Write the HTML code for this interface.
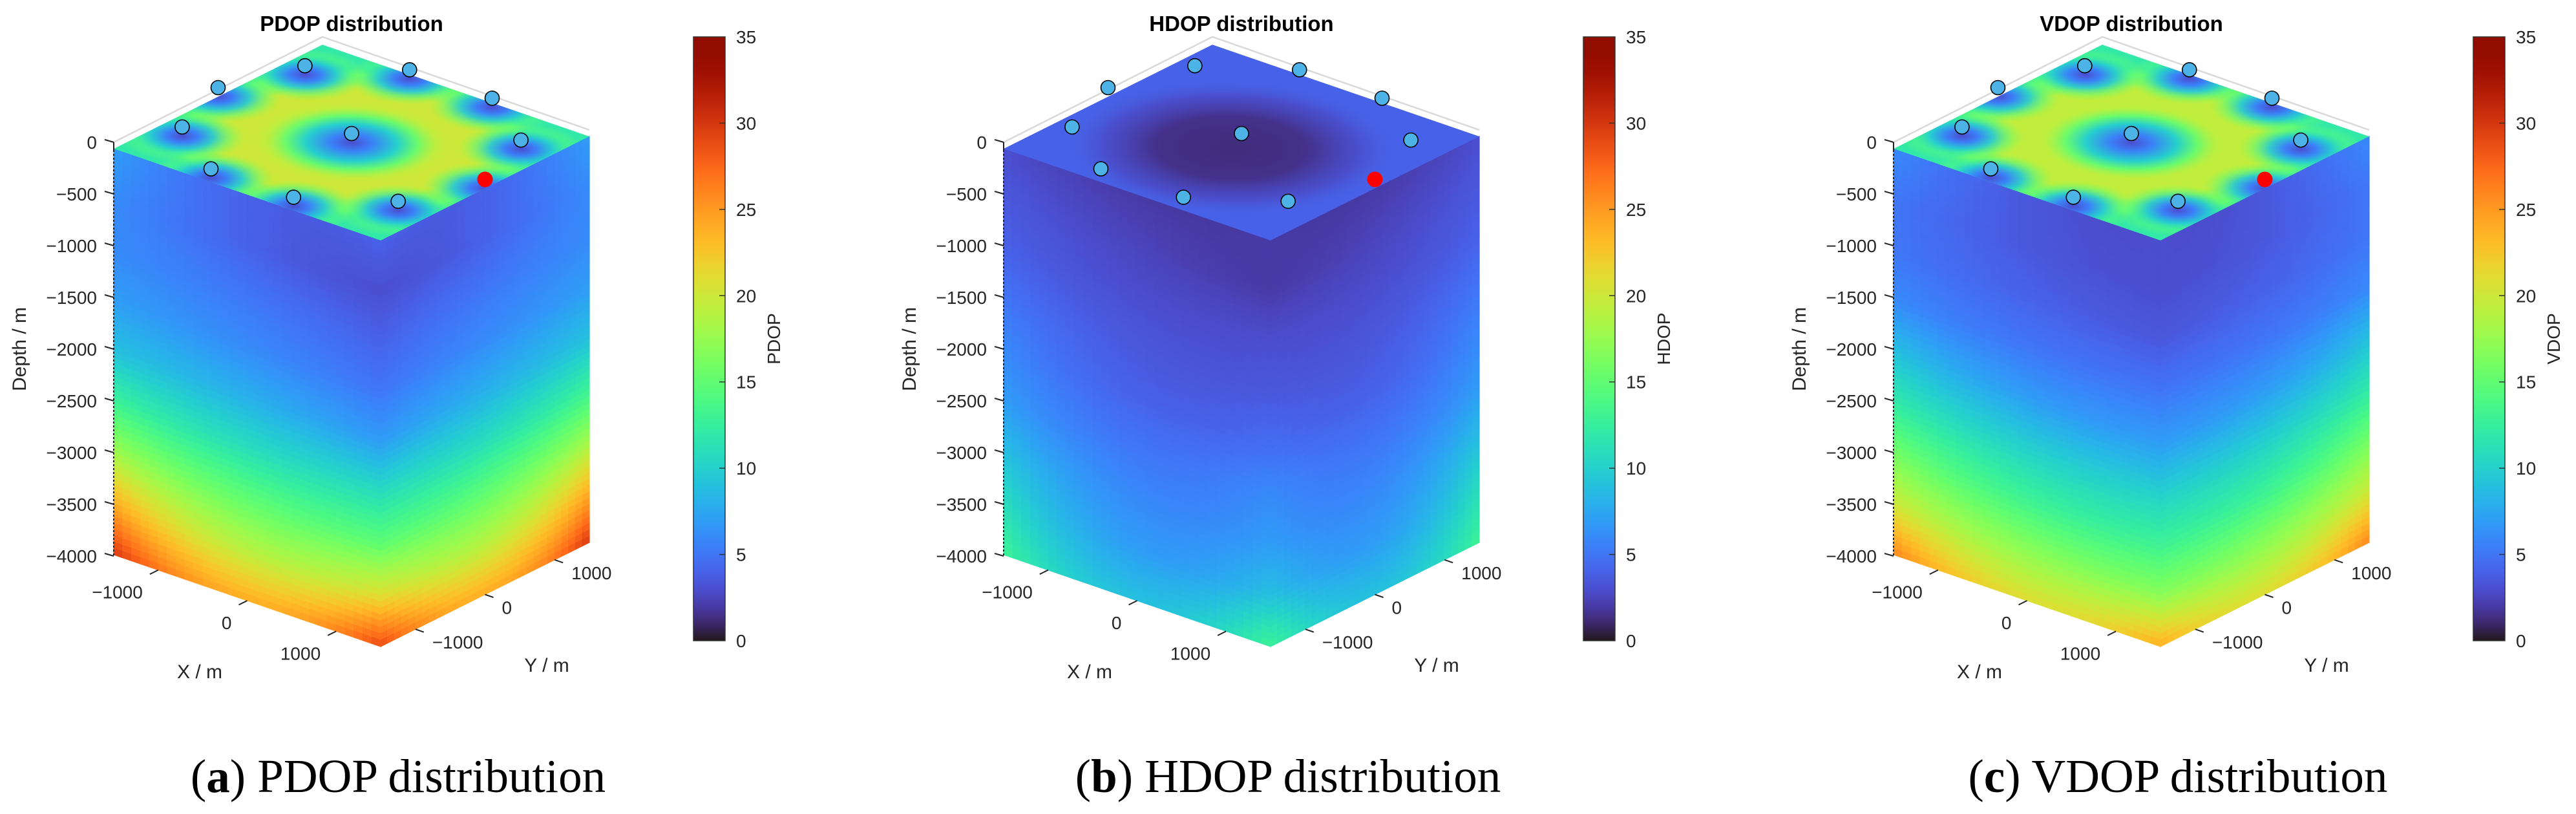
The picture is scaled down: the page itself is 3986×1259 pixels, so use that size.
<!DOCTYPE html>
<html><head><meta charset="utf-8"><title>DOP distributions</title>
<style>html,body{margin:0;padding:0;background:#fff}svg{display:block}</style></head>
<body>
<svg id="fig" xmlns="http://www.w3.org/2000/svg" width="3986" height="1259" viewBox="0 0 3986 1259"></svg>
<script>
// ---- data arrays ----
const depthLevels = [0, 500, 1000, 1500, 2000, 2500, 3000, 3500, 4000];
const depthTicks = [0, -500, -1000, -1500, -2000, -2500, -3000, -3500, -4000];
const xTicks = [-1000, 0, 1000];
const yTicks = [-1000, 0, 1000];
const colorbarTicks = [0, 5, 10, 15, 20, 25, 30, 35];
const pdopOuter = [7, 6, 6, 7, 9, 13, 18, 24, 30];
const pdopMid   = [4, 4, 5, 6, 8, 11, 15, 19, 24];
const pdopFront = [4, 3, 4, 5, 7, 11, 15, 21, 29];
const hdopOuter = [3, 3.5, 4, 5, 6, 7, 9, 11, 13];
const hdopMid   = [2, 2.5, 3, 3.5, 4, 5, 6, 7, 9];
const hdopFront = [2, 2, 3, 3.5, 4.5, 6, 7, 9, 13];
const vdopOuter = [6, 5, 5, 6, 9, 12, 16, 20, 26];
const vdopMid   = [3.5, 3.5, 4, 5, 7, 10, 13, 17, 21];
const vdopFront = [3, 3, 3.5, 5, 7, 10, 13, 17, 24];
// top-surface characteristic values: [corner, ring band, sensor dip, centre dip]
const pdopTop = [12, 20, 3, 3];
const hdopTop = [4, 1.2, 3, 1.2];
const vdopTop = [12, 19.5, 3, 3];
const sensorX = [1214, 464, -464, -1214, -1500, -1214, -464, 464, 1214, 0];
const sensorY = [882, 1427, 1427, 882, 0, -882, -1427, -1427, -882, 0];
const refX = [1500];
const refY = [0];

const NS = "http://www.w3.org/2000/svg";
const svg = document.getElementById('fig');
function turbo(v){
  let x = Math.max(0, Math.min(1, v/35));
  let r = 0.13572138 + x*(4.61539260 + x*(-42.66032258 + x*(132.13108234 + x*(-152.94239396 + x*59.28637943))));
  let g = 0.09140261 + x*(2.19418839 + x*(4.84296658 + x*(-14.18503333 + x*(4.27729857 + x*2.82956604))));
  let b = 0.10667330 + x*(12.64194608 + x*(-60.58204836 + x*(110.36276771 + x*(-89.90310912 + x*27.34824973))));
  const c = t => Math.round(255*Math.max(0, Math.min(1, t)));
  return 'rgb(' + c(r) + ',' + c(g) + ',' + c(b) + ')';
}
function mk(tag, attrs, parent){
  const e = document.createElementNS(NS, tag);
  for (const k in attrs) e.setAttribute(k, attrs[k]);
  (parent || svg).appendChild(e);
  return e;
}
const defs = mk('defs', {});

const EX = [413, 142], EY = [323, -161], ZS = 0.157;
function P(off, x, y, d){
  return [544 + off + x/3000*EX[0] + y/3000*EY[0], 220.5 + x/3000*EX[1] + y/3000*EY[1] + d*ZS];
}
function interpDepth(arr, d){
  const i = Math.min(depthLevels.length - 2, Math.floor(d/500));
  const t = (d - depthLevels[i]) / 500;
  return arr[i]*(1-t) + arr[i+1]*t;
}
function lag(o, m, f, u){
  return o*2*(u-0.5)*(u-1) + m*(-4*u*(u-1)) + f*2*u*(u-0.5);
}

function panel(idx, name, outer, mid, front, top, caption, letter){
  const off = idx*1377;
  const g = mk('g', {});
  
  

  const lt = P(off, -1500, -1500, 0), tv = P(off, -1500, 1500, 0), rt = P(off, 1500, 1500, 0);
  const grid = mk('polyline', {points: [lt[0], lt[1]-10, tv[0], tv[1]-12, rt[0], rt[1]-10].join(' '), fill: 'none', stroke: '#d9d9d9', 'stroke-width': 2.5}, g);
  
  

  const faces = mk('g', {}, g);
  
  
  const NR = 64, NC = 30;
  for (let r = 0; r < NR; r++){
    const d0 = 4000*r/NR, d1 = 4000*(r+1)/NR, dm = (d0+d1)/2;
    const o = interpDepth(outer, dm), m = interpDepth(mid, dm), f = interpDepth(front, dm);
    for (let c = 0; c < NC; c++){
      const u0 = c/NC, u1 = (c+1)/NC, um = (u0+u1)/2;
      const v = lag(o, m, f, um), col = turbo(v);
      const a = P(off, -1500+3000*u0, -1500, d0), b = P(off, -1500+3000*u1, -1500, d0),
            cc = P(off, -1500+3000*u1, -1500, d1), dd = P(off, -1500+3000*u0, -1500, d1);
      mk('polygon', {points: [a, b, cc, dd].map(p => p.join(',')).join(' '), fill: col, stroke: col, 'stroke-width': 1.2}, faces);
      const v2 = lag(f, m, o, um), col2 = turbo(v2);
      const a2 = P(off, 1500, -1500+3000*u0, d0), b2 = P(off, 1500, -1500+3000*u1, d0),
            c2 = P(off, 1500, -1500+3000*u1, d1), d2 = P(off, 1500, -1500+3000*u0, d1);
      mk('polygon', {points: [a2, b2, c2, d2].map(p => p.join(',')).join(' '), fill: col2, stroke: col2, 'stroke-width': 1.2}, faces);
    }
  }

  const O = P(off, 0, 0, 0);
  const clipId = 'clip' + idx;
  const cp = mk('clipPath', {id: clipId}, defs);
  mk('rect', {x: -1500, y: -1500, width: 3000, height: 3000}, cp);
  const tg = mk('g', {transform: 'matrix(' + [EX[0]/3000, EX[1]/3000, EY[0]/3000, EY[1]/3000, O[0], O[1]].join(',') + ')', 'clip-path': 'url(#' + clipId + ')'}, g);
  
  
  mk('rect', {x: -1500, y: -1500, width: 3000, height: 3000, fill: turbo(top[0])}, tg);
  const rg = mk('radialGradient', {id: 'ring' + idx}, defs);
  if (idx === 1) {
    [[0, top[1], 1], [0.45, top[1]+0.3, 1], [0.75, (top[1]+top[0])/2, 0.7], [1, top[0], 0]].forEach(s => mk('stop', {offset: s[0], 'stop-color': turbo(s[1]), 'stop-opacity': s[2]}, rg));
    mk('circle', {cx: 0, cy: -150, r: 1500, fill: 'url(#ring' + idx + ')'}, tg);
  } else {
    [[0, top[1], 1], [0.72, top[1], 1], [0.9, (top[1]+top[0])/2, 0.8], [1, top[0], 0]].forEach(s => mk('stop', {offset: s[0], 'stop-color': turbo(s[1]), 'stop-opacity': s[2]}, rg));
    mk('circle', {cx: 0, cy: 0, r: 1650, fill: 'url(#ring' + idx + ')'}, tg);
    const dg = mk('radialGradient', {id: 'dip' + idx}, defs);
    [[0, top[2], 1], [0.25, top[2]+2.5, 1], [0.5, top[2]+6.5, 0.9], [0.75, top[2]+11, 0.5], [1, top[2]+14, 0]].forEach(s => mk('stop', {offset: s[0], 'stop-color': turbo(s[1]), 'stop-opacity': s[2]}, dg));
    const cg = mk('radialGradient', {id: 'cdip' + idx}, defs);
    [[0, top[3], 1], [0.2, top[3]+2.5, 1], [0.45, top[3]+7, 1], [0.65, top[3]+12, 0.9], [0.85, top[3]+16, 0.5], [1, top[3]+17, 0]].forEach(s => mk('stop', {offset: s[0], 'stop-color': turbo(s[1]), 'stop-opacity': s[2]}, cg));
    for (let i = 0; i < sensorX.length; i++){
      const centre = (sensorX[i] === 0 && sensorY[i] === 0);
      mk('circle', {cx: sensorX[i], cy: sensorY[i], r: centre ? 900 : 560, fill: 'url(#' + (centre ? 'cdip' : 'dip') + idx + ')'}, tg);
    }
    for (let i = 0; i < refX.length; i++){
      mk('circle', {cx: refX[i], cy: refY[i], r: 560, fill: 'url(#dip' + idx + ')'}, tg);
    }
  }

  for (let i = 0; i < sensorX.length; i++){
    const p = P(off, sensorX[i], sensorY[i], 0);
    const c = mk('circle', {cx: p[0], cy: p[1]-14, r: 11, fill: '#4db3e6', stroke: '#000', 'stroke-width': 1.6}, g);
    
    
  }
  for (let i = 0; i < refX.length; i++){
    const p = P(off, refX[i], refY[i], 0);
    const c = mk('circle', {cx: p[0], cy: p[1]-14, r: 12, fill: '#ff0000'}, g);
    
    
  }

  const ax = 176 + off;
  mk('line', {x1: ax, y1: 220, x2: ax, y2: 860, stroke: '#222', 'stroke-width': 2, 'stroke-dasharray': '3,3'}, g);
  mk('line', {x1: ax, y1: 220, x2: ax, y2: 234, stroke: '#222', 'stroke-width': 2}, g);
  depthTicks.forEach(t => {
    const y = 220 + (-t)*0.16;
    mk('line', {x1: ax, y1: y, x2: ax-14, y2: y-4, stroke: '#262626', 'stroke-width': 2}, g);
    const tx = mk('text', {x: ax-26, y: y+10, 'text-anchor': 'end', 'font-size': 28, fill: '#262626'}, g);
    tx.textContent = t === 0 ? '0' : '\u2212' + (-t);
    
    
  });
  const dl = mk('text', {x: 0, y: 0, transform: 'translate(' + (40+off) + ',540) rotate(-90)', 'text-anchor': 'middle', 'font-size': 30, fill: '#262626'}, g);
  dl.textContent = 'Depth / m';
  
  

  xTicks.forEach(t => {
    const p = P(off, t, -1500, 4000);
    mk('line', {x1: p[0], y1: p[1], x2: p[0]-13, y2: p[1]+6.5, stroke: '#262626', 'stroke-width': 2}, g);
    const tx = mk('text', {x: p[0]-24, y: p[1]+44, 'text-anchor': 'end', 'font-size': 28, fill: '#262626'}, g);
    tx.textContent = t < 0 ? '\u2212' + (-t) : String(t);
    
    
  });
  yTicks.forEach(t => {
    const p = P(off, 1500, t, 4000);
    mk('line', {x1: p[0], y1: p[1], x2: p[0]+13, y2: p[1]+4.5, stroke: '#262626', 'stroke-width': 2}, g);
    const tx = mk('text', {x: p[0]+26, y: p[1]+30, 'text-anchor': 'start', 'font-size': 28, fill: '#262626'}, g);
    tx.textContent = t < 0 ? '\u2212' + (-t) : String(t);
    
    
  });
  const xl = mk('text', {x: 309+off, y: 1049, 'text-anchor': 'middle', 'font-size': 30, fill: '#262626'}, g);
  xl.textContent = 'X / m';
  
  
  const yl = mk('text', {x: 846+off, y: 1039, 'text-anchor': 'middle', 'font-size': 30, fill: '#262626'}, g);
  yl.textContent = 'Y / m';
  
  

  const tt = mk('text', {x: 544+off, y: 48, 'text-anchor': 'middle', 'font-size': 33, 'font-weight': 'bold', fill: '#000'}, g);
  tt.textContent = name + ' distribution';
  
  

  const cbx = 1073 + off, cby = 57, cbw = 49, cbh = 934;
  const lg = mk('linearGradient', {id: 'cb' + idx, x1: 0, y1: 1, x2: 0, y2: 0}, defs);
  for (let v = 0; v <= 35; v++) mk('stop', {offset: v/35, 'stop-color': turbo(v)}, lg);
  const cb = mk('rect', {x: cbx, y: cby, width: cbw, height: cbh, fill: 'url(#cb' + idx + ')', stroke: '#333', 'stroke-width': 1.5}, g);
  
  
  colorbarTicks.forEach(t => {
    const y = cby + cbh - t/35*cbh;
    if (t > 0 && t < 35) mk('line', {x1: cbx+cbw, y1: y, x2: cbx+cbw-9, y2: y, stroke: '#333', 'stroke-width': 1.5}, g);
    const tx = mk('text', {x: cbx+cbw+17, y: y+10, 'font-size': 28, fill: '#262626'}, g);
    tx.textContent = String(t);
    
    
  });
  const cl = mk('text', {x: 0, y: 0, transform: 'translate(' + (cbx+134) + ',524) rotate(-90)', 'text-anchor': 'middle', 'font-size': 28, fill: '#262626'}, g);
  cl.textContent = name;
  
  

  const cap = mk('text', {x: 616+off, y: 1225, 'text-anchor': 'middle', 'font-size': 73, fill: '#000', 'font-family': '"Liberation Serif", serif'}, g);
  
  
  const t1 = mk('tspan', {}, cap); t1.textContent = '(';
  const t2 = mk('tspan', {'font-weight': 'bold'}, cap); t2.textContent = letter;
  const t3 = mk('tspan', {}, cap); t3.textContent = ') ' + caption;
}
svg.setAttribute('font-family', '"Liberation Sans", Arial, sans-serif');
panel(0, 'PDOP', pdopOuter, pdopMid, pdopFront, pdopTop, 'PDOP distribution', 'a');
panel(1, 'HDOP', hdopOuter, hdopMid, hdopFront, hdopTop, 'HDOP distribution', 'b');
panel(2, 'VDOP', vdopOuter, vdopMid, vdopFront, vdopTop, 'VDOP distribution', 'c');
</script>
</body></html>
